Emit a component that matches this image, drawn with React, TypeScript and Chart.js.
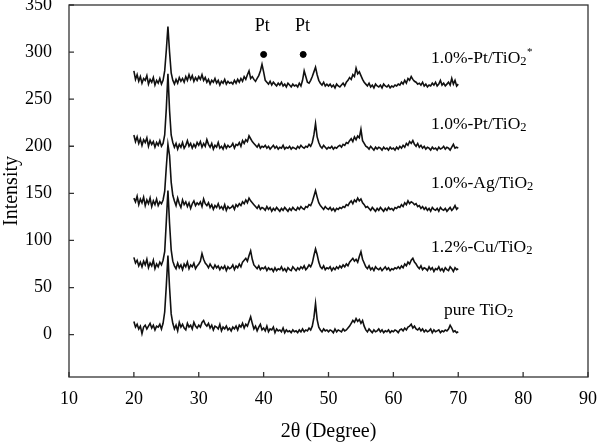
import React, { useEffect, useRef } from "react";
import { Chart, registerables } from "chart.js";

Chart.register(...registerables);

const twoTheta = [
  20, 20.25, 20.5, 20.75, 21, 21.25, 21.5, 21.75, 22, 22.25, 22.5, 22.75, 23, 23.25, 23.5, 23.75, 24, 24.25, 24.5, 24.75,
  25, 25.25, 25.5, 25.75, 26, 26.25, 26.5, 26.75, 27, 27.25, 27.5, 27.75, 28, 28.25, 28.5, 28.75, 29, 29.25, 29.5, 29.75,
  30, 30.25, 30.5, 30.75, 31, 31.25, 31.5, 31.75, 32, 32.25, 32.5, 32.75, 33, 33.25, 33.5, 33.75, 34, 34.25, 34.5, 34.75,
  35, 35.25, 35.5, 35.75, 36, 36.25, 36.5, 36.75, 37, 37.25, 37.5, 37.75, 38, 38.25, 38.5, 38.75, 39, 39.25, 39.5, 39.75,
  40, 40.25, 40.5, 40.75, 41, 41.25, 41.5, 41.75, 42, 42.25, 42.5, 42.75, 43, 43.25, 43.5, 43.75, 44, 44.25, 44.5, 44.75,
  45, 45.25, 45.5, 45.75, 46, 46.25, 46.5, 46.75, 47, 47.25, 47.5, 47.75, 48, 48.25, 48.5, 48.75, 49, 49.25, 49.5, 49.75,
  50, 50.25, 50.5, 50.75, 51, 51.25, 51.5, 51.75, 52, 52.25, 52.5, 52.75, 53, 53.25, 53.5, 53.75, 54, 54.25, 54.5, 54.75,
  55, 55.25, 55.5, 55.75, 56, 56.25, 56.5, 56.75, 57, 57.25, 57.5, 57.75, 58, 58.25, 58.5, 58.75, 59, 59.25, 59.5, 59.75,
  60, 60.25, 60.5, 60.75, 61, 61.25, 61.5, 61.75, 62, 62.25, 62.5, 62.75, 63, 63.25, 63.5, 63.75, 64, 64.25, 64.5, 64.75,
  65, 65.25, 65.5, 65.75, 66, 66.25, 66.5, 66.75, 67, 67.25, 67.5, 67.75, 68, 68.25, 68.5, 68.75, 69, 69.25, 69.5, 69.75,
  70,
];

const pureTiO2 = [
  14, 8, 11, 6, 9, 1, 8, 10, 6, 9, 12, 7, 10, 5, 9, 8, 11, 6, 12, 24,
  52, 84, 50, 22, 12, 6, 10, 4, 13, 8, 11, 7, 5, 12, 8, 10, 6, 13, 9, 7,
  10, 8, 13, 15, 11, 9, 12, 7, 10, 5, 9, 8, 6, 11, 4, 8, 6, 9, 5, 7,
  4, 8, 6, 9, 5, 10, 8, 12, 7, 11, 9, 14, 19, 12, 6, 9, 4, 8, 11, 5,
  7, 4, 9, 3, 6, 5, 8, 2, 6, 4, 5, 3, 7, 2, 5, 3, 4, 2, 5, 3,
  4, 2, 5, 3, 6, 3, 5, 4, 7, 5, 9, 18, 33, 16, 8, 5, 3, 6, 4, 5,
  3, 5, 4, 2, 6, 3, 5, 4, 3, 6, 4, 5, 7, 9, 12, 15, 13, 17, 14, 16,
  12, 15, 9, 5, 3, 6, 4, 2, 5, 3, 4, 6, 3, 5, 2, 4, 3, 5, 2, 4,
  3, 5, 4, 2, 5, 6, 4, 7, 5, 8, 9, 11, 7, 9, 6, 5, 7, 4, 6, 3,
  5, 3, 4, 6, 2, 5, 3, 4, 5, 2, 4, 3, 5, 4, 6, 10, 7, 3, 4, 2,
  3,
];

const cuTiO2 = [
  82, 76, 79, 73, 77, 72, 78, 74, 80, 71, 76, 73, 79, 70, 75, 72, 77, 74, 79, 88,
  120, 153, 118, 90, 78, 73, 70, 76, 71, 74, 69, 75, 72, 77, 70, 74, 72, 76, 70, 73,
  75, 78, 86, 80, 76, 74, 71, 75, 72, 70, 74, 71, 73, 69, 72, 70, 73, 68, 72, 70,
  71, 74, 69, 73, 71, 75, 72, 77, 79, 81, 78, 84, 89, 80, 74, 72, 70, 73, 69, 71,
  70, 72, 68, 71, 69, 70, 67, 71, 68, 70, 69, 72, 68, 70, 67, 71, 69, 68, 72, 70,
  68, 71, 69, 72, 70, 73, 69, 71, 74, 72, 76, 84, 91, 85, 77, 72, 70, 73, 69, 71,
  70, 72, 68, 71, 69, 72, 70, 73, 71, 74, 72, 75, 73, 77, 79, 81, 78, 80, 77, 83,
  88, 80, 76, 72, 70, 73, 69, 71, 68, 72, 70, 69, 71, 68, 70, 72, 69, 71, 68, 70,
  69, 71, 70, 72, 70, 73, 71, 75, 73, 77, 75, 79, 81, 77, 75, 72, 70, 73, 69, 71,
  70, 68, 72, 69, 71, 67, 70, 69, 72, 68, 70, 67, 71, 69, 68, 72, 70, 67, 71, 69,
  70,
];

const agTiO2 = [
  145, 141, 147, 138, 144, 140, 146, 137, 143, 139, 145, 136, 142, 138, 144, 137, 141, 139, 143, 152,
  178, 202, 190, 162, 148, 142, 137, 145, 139, 135, 143, 138, 141, 136, 140, 134, 139, 142, 137, 140,
  138, 141, 136, 144, 139, 137, 140, 135, 138, 133, 137, 135, 139, 134, 136, 133, 138, 132, 136, 134,
  135, 137, 133, 138, 136, 139, 137, 141, 139, 143, 140, 145, 142, 140, 138, 136, 134, 137, 133, 135,
  134, 132, 136, 133, 135, 131, 134, 132, 135, 133, 131, 134, 132, 135, 133, 131, 134, 132, 135, 133,
  132, 135, 133, 136, 134, 133, 136, 135, 138, 137, 141, 147, 153, 146, 140, 137, 135, 133, 136, 134,
  133, 135, 132, 134, 131, 134, 133, 135, 134, 136, 135, 138, 137, 140, 142, 139, 143, 141, 145, 142,
  144, 140, 138, 135, 136, 134, 132, 135, 133, 131, 134, 132, 135, 133, 131, 134, 132, 135, 133, 134,
  132, 135, 134, 136, 135, 138, 136, 140, 138, 142, 139, 141, 140, 138, 139, 136, 137, 134, 136, 133,
  135, 132, 134, 131, 135, 133, 132, 134, 131, 135, 133, 132, 134, 131, 133, 135, 132, 134, 137, 133,
  135,
];

const ptTiO2 = [
  212, 205, 210, 203, 208, 201, 207, 204, 209, 200, 206, 202, 205, 199, 204, 201, 206, 200, 203, 212,
  240, 277, 238, 212, 204, 199, 203, 197, 202, 199, 204, 198, 201, 206, 200, 203, 198, 202, 199, 204,
  201, 205, 199, 203, 200, 207, 202, 199, 203, 197, 201, 199, 204, 198, 200, 197, 202, 198, 201, 199,
  200, 203, 198, 202, 201, 204, 200, 206, 203, 207, 205, 211, 208, 205, 203, 201, 199, 202, 198, 200,
  199, 201, 198, 200, 197, 199, 201, 198, 200, 197, 199, 198, 201, 197, 199, 198, 200, 197, 199, 198,
  197, 200, 198, 201, 199, 198, 200, 199, 202, 200, 204, 212, 224, 210, 204, 200, 198, 201, 199, 197,
  199, 198, 200, 197, 199, 198, 200, 201, 199, 202, 201, 204, 203, 206, 208, 205, 210, 207, 211, 209,
  218, 206, 203, 200, 199, 197, 200, 198, 196, 199, 197, 199, 198, 196, 199, 197, 198, 196, 199, 197,
  198, 196, 199, 197, 200, 198, 201, 199, 203, 201, 205, 203, 206, 202, 200, 203, 199, 201, 198, 200,
  197, 199, 198, 196, 199, 197, 198, 196, 199, 197, 198, 200, 197, 199, 198, 196, 199, 202, 198, 199,
  198,
];

const ptTiO2Star = [
  280, 271, 276, 269, 274, 267, 272, 270, 275, 266, 271, 268, 273, 265, 270, 267, 272, 266, 270, 280,
  302, 327, 300, 278, 270, 266, 271, 267, 273, 269, 272, 268, 274, 270, 276, 271, 275, 269, 273, 270,
  274, 271, 276, 270, 273, 268, 271, 266, 270, 268, 272, 267, 270, 265, 269, 267, 271, 266, 269, 267,
  268, 266, 270, 267, 271, 268, 272, 269, 274, 271, 276, 280, 272, 274, 271, 269, 272, 275, 280, 287,
  279, 270, 268, 266, 269, 265, 268, 266, 264, 267, 265, 268, 264, 266, 263, 267, 265, 263, 266, 264,
  265, 263, 267, 264, 270, 280, 274, 268, 267, 270, 274, 279, 284, 276, 270, 267, 265, 268, 264, 266,
  264, 266, 263, 265, 262, 266, 264, 263, 265, 267, 264, 268, 270, 273, 271, 276, 274, 283, 277, 279,
  275, 271, 268, 266, 264, 267, 263, 265, 262, 266, 264, 263, 265, 262, 266, 264, 263, 265, 262, 264,
  263, 265, 264, 266, 265, 268, 266, 270, 267, 272, 270, 274, 271, 269, 268, 266, 267, 265, 268, 264,
  266, 263, 265, 264, 267, 265, 268, 264, 266, 270, 265, 267, 264, 266, 268, 265, 272, 266, 270, 264,
  266,
];

const xTicks = [10, 20, 30, 40, 50, 60, 70, 80, 90];
const yTicks = [0, 50, 100, 150, 200, 250, 300, 350];

const ptMarkX = [40.0, 46.1];
const ptMarkY = [297.5, 297.5];
const ptMarkText = ["Pt", "Pt"];

const sampleNames = ["1.0%-Pt/TiO", "1.0%-Pt/TiO", "1.0%-Ag/TiO", "1.2%-Cu/TiO", "pure TiO"];
const sampleSubs = ["2", "2", "2", "2", "2"];
const sampleSups = ["*", "", "", "", ""];

// label anchors (data units): left x, baseline y
const labelAnchorX = [65.8, 65.8, 65.8, 65.8, 67.8];
const labelAnchorY = [288, 218, 156, 88, 21];
const ptTextAnchorX = [39.8, 46.0];
const ptTextAnchorY = 322;

const FONT = "'Liberation Serif', 'Times New Roman', serif";

const annotationPlugin = {
  id: "xrdAnnotations",
  afterDraw(chart: any) {
    const { ctx, chartArea, scales } = chart;
    const xs = scales.x;
    const ys = scales.y;
    const { left, right, top, bottom } = chartArea;
    ctx.save();
    // frame
    ctx.strokeStyle = "#333";
    ctx.lineWidth = 1.3;
    ctx.strokeRect(left, top, right - left, bottom - top);
    // inward ticks
    ctx.beginPath();
    xTicks.forEach((v) => {
      const px = xs.getPixelForValue(v);
      ctx.moveTo(px, bottom);
      ctx.lineTo(px, bottom - 5);
    });
    yTicks.forEach((v) => {
      const py = ys.getPixelForValue(v);
      ctx.moveTo(left, py);
      ctx.lineTo(left + 5, py);
    });
    ctx.stroke();

    // sample labels
    ctx.fillStyle = "#000";
    ctx.textBaseline = "alphabetic";
    ctx.textAlign = "left";
    sampleNames.forEach((name, i) => {
      const px = xs.getPixelForValue(labelAnchorX[i]);
      const py = ys.getPixelForValue(labelAnchorY[i]);
      ctx.font = `17.5px ${FONT}`;
      ctx.fillText(name, px, py);
      const w = ctx.measureText(name).width;
      ctx.font = `12.5px ${FONT}`;
      ctx.fillText(sampleSubs[i], px + w, py + 2);
      const w2 = ctx.measureText(sampleSubs[i]).width;
      if (sampleSups[i]) {
        ctx.font = `11px ${FONT}`;
        ctx.fillText(sampleSups[i], px + w + w2 + 0.5, py - 8);
      }
    });

    // Pt labels
    ctx.font = `18px ${FONT}`;
    ctx.textAlign = "center";
    ptMarkText.forEach((t, i) => {
      ctx.fillText(t, xs.getPixelForValue(ptTextAnchorX[i]), ys.getPixelForValue(ptTextAnchorY));
    });
    ctx.restore();
  },
};

export default function App() {
  const canvasRef = useRef<HTMLCanvasElement | null>(null);

  useEffect(() => {
    if (!canvasRef.current) return;
    const mk = (vals: number[]) => vals.map((v, i) => ({ x: twoTheta[i], y: v }));
    const lineStyle = {
      borderColor: "#111",
      borderWidth: 1.6,
      pointRadius: 0,
      tension: 0,
      fill: false,
    };
    const chart = new Chart(canvasRef.current, {
      type: "line",
      data: {
        datasets: [
          { label: "pure TiO2", data: mk(pureTiO2), ...lineStyle },
          { label: "1.2%-Cu/TiO2", data: mk(cuTiO2), ...lineStyle },
          { label: "1.0%-Ag/TiO2", data: mk(agTiO2), ...lineStyle },
          { label: "1.0%-Pt/TiO2", data: mk(ptTiO2), ...lineStyle },
          { label: "1.0%-Pt/TiO2*", data: mk(ptTiO2Star), ...lineStyle },
          {
            type: "scatter",
            label: "Pt",
            data: ptMarkX.map((x, i) => ({ x, y: ptMarkY[i] })),
            pointRadius: 3,
            pointBackgroundColor: "#000",
            pointBorderColor: "#000",
            showLine: false,
          } as any,
        ],
      },
      options: {
        animation: false,
        responsive: false,
        devicePixelRatio: 1,
        layout: { padding: { top: 3, right: 10, left: 0, bottom: 0 } },
        plugins: {
          legend: { display: false },
          tooltip: { enabled: false },
        },
        scales: {
          x: {
            type: "linear",
            min: 10,
            max: 90,
            grid: { display: false },
            border: { display: false },
            afterBuildTicks: (s: any) => {
              s.ticks = xTicks.map((v) => ({ value: v }));
            },
            afterFit: (s: any) => {
              s.height = 67;
              s.paddingLeft = 0;
              s.paddingRight = 0;
            },
            ticks: {
              color: "#000",
              font: { family: FONT, size: 18 },
              padding: 3,
              maxRotation: 0,
              autoSkip: false,
              callback: (v: any) => String(v),
            },
            title: {
              display: true,
              text: "2θ (Degree)",
              color: "#000",
              font: { family: FONT, size: 20 },
              padding: 0,
            },
          },
          y: {
            type: "linear",
            min: -45,
            max: 350,
            grid: { display: false },
            border: { display: false },
            afterBuildTicks: (s: any) => {
              s.ticks = yTicks.map((v) => ({ value: v }));
            },
            afterFit: (s: any) => {
              s.width = 69;
              s.paddingTop = 0;
              s.paddingBottom = 0;
            },
            ticks: {
              color: "#000",
              font: { family: FONT, size: 18 },
              padding: 9,
              autoSkip: false,
              callback: (v: any) => String(v),
            },
            title: {
              display: true,
              text: "Intensity",
              color: "#000",
              font: { family: FONT, size: 20 },
              padding: 0,
            },
          },
        },
      } as any,
      plugins: [annotationPlugin],
    });
    return () => chart.destroy();
  }, []);

  return (
    <div style={{ position: "absolute", left: 0, top: 0, width: 598, height: 444, background: "#fff" }}>
      <canvas ref={canvasRef} width={598} height={444} style={{ width: 598, height: 444 }} />
    </div>
  );
}
